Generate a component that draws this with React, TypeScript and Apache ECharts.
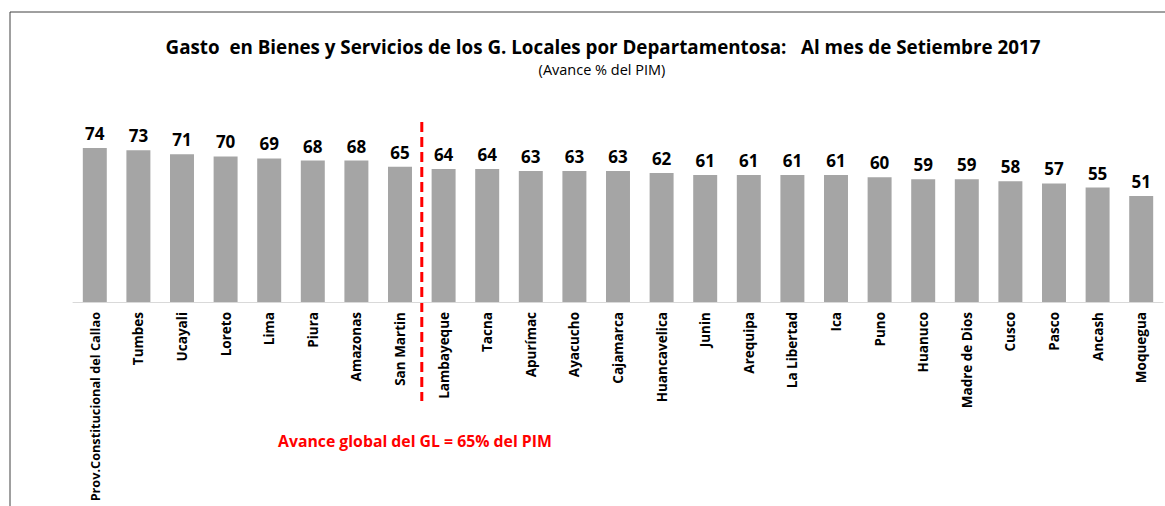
import React, { useEffect, useRef } from "react";
import * as echarts from "echarts";

const categories = [
  "Prov.Constitucional del Callao", "Tumbes", "Ucayali", "Loreto", "Lima", "Piura", "Amazonas", "San Martin",
  "Lambayeque", "Tacna", "Apurímac", "Ayacucho", "Cajamarca", "Huancavelica", "Junin", "Arequipa",
  "La Libertad", "Ica", "Puno", "Huanuco", "Madre de Dios", "Cusco", "Pasco", "Ancash", "Moquegua",
];
const values = [74, 73, 71, 70, 69, 68, 68, 65, 64, 64, 63, 63, 63, 62, 61, 61, 61, 61, 60, 59, 59, 58, 57, 55, 51];
const titleText = "Gasto  en Bienes y Servicios de los G. Locales por Departamentosa:   Al mes de Setiembre 2017";
const subtitleText = "(Avance % del PIM)";
const noteText = "Avance global del GL = 65% del PIM";
const splitAfterIndex = 7;

const FONT = "'Open Sans', sans-serif";

export default function App() {
  const ref = useRef<HTMLDivElement>(null);
  useEffect(() => {
    if (!ref.current) return;
    const chart = echarts.init(ref.current, undefined, { renderer: "svg" });
    chart.setOption({
      animation: false,
      backgroundColor: "#ffffff",
      textStyle: { fontFamily: FONT },
      title: [
        {
          text: titleText,
          left: 603,
          textAlign: "center",
          top: 37,
          padding: 0,
          textStyle: { fontFamily: FONT, fontSize: 18.8, fontWeight: "bold", color: "#000" },
        },
        {
          text: subtitleText,
          left: 602,
          textAlign: "center",
          top: 62,
          padding: 0,
          textStyle: { fontFamily: FONT, fontSize: 14.5, fontWeight: "normal", color: "#000" },
        },
      ],
      grid: { left: 73, right: 2, top: 135.6, bottom: 506 - 302, containLabel: false, outerBoundsMode: "none" },
      xAxis: {
        type: "category",
        data: categories,
        axisLine: { lineStyle: { color: "#d9d9d9", width: 1 } },
        axisTick: { show: false },
        axisLabel: {
          rotate: 90,
          interval: 0,
          margin: 10,
          fontFamily: FONT,
          fontSize: 13.5,
          fontWeight: "bold",
          color: "#000",
          formatter: (v: string, i: number) => (i === 0 ? `{long|${v}}` : v),
          rich: {
            long: { fontFamily: FONT, fontSize: 12.7, fontWeight: "bold", color: "#000" },
          },
        },
      },
      yAxis: {
        type: "value",
        min: 0,
        max: 80,
        show: false,
        splitLine: { show: false },
      },
      series: [
        {
          type: "bar",
          data: values,
          barWidth: "55%",
          itemStyle: { color: "#a5a5a5" },
          label: {
            show: true,
            position: "top",
            distance: 6,
            fontFamily: FONT,
            fontSize: 17,
            fontWeight: "bold",
            color: "#000",
          },
        },
      ],
    });
    const x1 = chart.convertToPixel({ xAxisIndex: 0 }, splitAfterIndex) as number;
    const x2 = chart.convertToPixel({ xAxisIndex: 0 }, splitAfterIndex + 1) as number;
    const xm = (x1 + x2) / 2;
    chart.setOption({
      graphic: [
        { type: "line", shape: { x1: 10, y1: 12, x2: 1165, y2: 12 }, style: { stroke: "#404040", lineWidth: 1 } },
        { type: "line", shape: { x1: 10, y1: 12, x2: 10, y2: 506 }, style: { stroke: "#404040", lineWidth: 1 } },
        {
          type: "line",
          shape: { x1: xm, y1: 122, x2: xm, y2: 401 },
          style: { stroke: "#ff0000", lineWidth: 3, lineDash: [10, 5] },
        },
        {
          type: "text",
          left: 278,
          top: 433,
          style: { text: noteText, fill: "#ff0000", font: `bold 15.8px ${FONT}` },
        },
      ],
    });
    return () => chart.dispose();
  }, []);
  return <div ref={ref} style={{ position: "fixed", left: 0, top: 0, width: 1165, height: 506 }} />;
}
